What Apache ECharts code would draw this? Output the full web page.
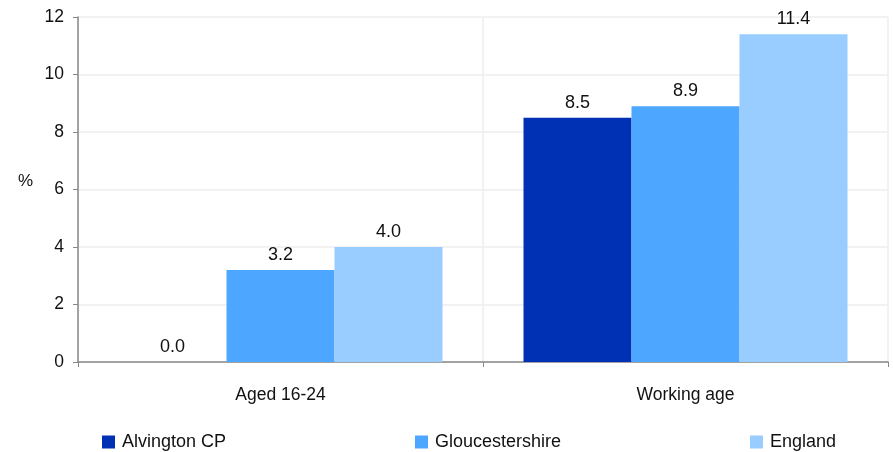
<!DOCTYPE html>
<html lang="en">
<head>
    <meta charset="UTF-8">
    <title>Unemployment chart</title>
    <script src="https://cdn.jsdelivr.net/npm/echarts@6/dist/echarts.min.js"></script>
</head>
<body style="margin:0">
<div id="my" style="width: 893px;height: 452px;"></div>
<script>
    // categories and series values
    var categories = ['Aged 16-24', 'Working age']
    var alvington = [0.0, 8.5]
    var gloucestershire = [3.2, 8.9]
    var england = [4.0, 11.4]
    var yTicks = [0, 2, 4, 6, 8, 10, 12]

    var font = 'Liberation Sans, Arial, sans-serif'
    var mCharts = echarts.init(document.getElementById('my'))

    function bar(name, data, color) {
        return {
            name: name,
            type: 'bar',
            data: data,
            barGap: '0%',
            barCategoryGap: '20%',
            itemStyle: {color: color},
            label: {
                show: true,
                position: 'top',
                distance: 6,
                color: '#111',
                fontFamily: font,
                fontSize: 18,
                formatter: function (p) { return p.value.toFixed(1) }
            }
        }
    }

    function legend(name, left) {
        return {
            data: [name],
            left: left,
            top: 433,
            padding: 0,
            itemWidth: 13,
            itemHeight: 13,
            icon: 'rect',
            textStyle: {fontFamily: font, fontSize: 18, lineHeight: 13, color: '#111', padding: [0, 0, 0, 2]}
        }
    }

    var option = {
        animation: false,
        // y axis unit, drawn as plain text left of the axis
        graphic: [{
            type: 'text',
            left: 18,
            top: 173,
            style: {text: '%', fontFamily: font, fontSize: 17, fill: '#111'}
        }],
        legend: [
            legend('Alvington CP', 102),
            legend('Gloucestershire', 415),
            legend('England', 750)
        ],
        grid: {left: 78, right: 5, top: 17, bottom: 90},
        xAxis: {
            type: 'category',
            data: categories,
            axisLine: {lineStyle: {color: '#888', width: 1.5}},
            axisTick: {show: true, length: 5, lineStyle: {color: '#888'}},
            axisLabel: {fontFamily: font, fontSize: 17.5, color: '#111', margin: 24},
            splitLine: {show: true, lineStyle: {color: '#eee', width: 1.5}}
        },
        yAxis: {
            type: 'value',
            min: yTicks[0],
            max: yTicks[yTicks.length - 1],
            interval: 2,
            axisLine: {show: true, lineStyle: {color: '#888', width: 1.5}},
            axisTick: {show: true, length: 5, lineStyle: {color: '#888'}},
            axisLabel: {fontFamily: font, fontSize: 17.5, color: '#111', margin: 14},
            splitLine: {lineStyle: {color: '#eee', width: 1.5}}
        },
        series: [
            bar('Alvington CP', alvington, '#0030b3'),
            bar('Gloucestershire', gloucestershire, '#4da6ff'),
            bar('England', england, '#99ccff')
        ]
    }
    mCharts.setOption(option)
</script>
</body>
</html>
